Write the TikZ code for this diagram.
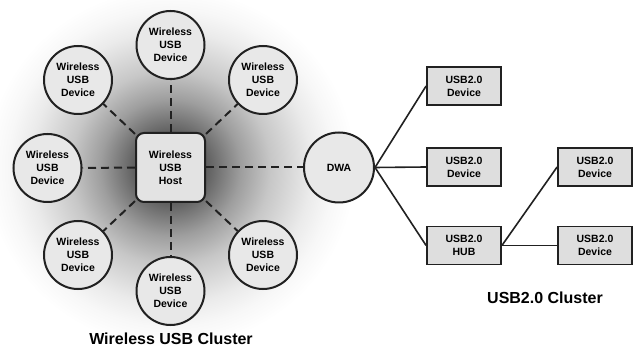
\documentclass[tikz,border=0pt]{standalone}
\usepackage{fontspec}
\setmainfont{Liberation Sans}
\definecolor{shA}{gray}{0.32}
\definecolor{shB}{gray}{0.38}
\definecolor{shC}{gray}{0.62}
\definecolor{shD}{gray}{0.78}
\definecolor{shE}{gray}{0.92}
\definecolor{shF}{gray}{0.97}
\definecolor{nodefill}{gray}{0.91}
\definecolor{hostfill}{gray}{0.89}
\definecolor{boxfill}{gray}{0.87}
\definecolor{linecol}{gray}{0.13}
\pgfdeclareradialshading{wusbshade}{\pgfpoint{0bp}{0bp}}{color(0bp)=(shA); color(5bp)=(shB); color(9.5bp)=(shC); color(13.5bp)=(shD); color(19bp)=(shE); color(22bp)=(shF); color(25bp)=(white); color(50bp)=(white)}
\tikzset{
  devcircle/.style={circle, draw=linecol, line width=2pt, fill=nodefill, minimum size=68pt, inner sep=0pt, align=center, font=\fontsize{10.5}{13}\selectfont\bfseries},
  hostbox/.style={rectangle, rounded corners=8pt, draw=linecol, line width=2pt, fill=hostfill, minimum width=69pt, minimum height=69pt, inner sep=0pt, align=center, font=\fontsize{10.5}{13}\selectfont\bfseries},
  usbbox/.style={rectangle, draw=linecol, line width=1.8pt, fill=boxfill, minimum width=74pt, minimum height=38pt, inner sep=0pt, align=center, font=\fontsize{10.5}{13}\selectfont\bfseries},
  wlink/.style={draw=linecol, line width=2pt, dash pattern=on 8pt off 5pt},
  clink/.style={draw=linecol, line width=1.6pt},
  title/.style={font=\fontsize{16}{18}\selectfont\bfseries, text=black}
}
\begin{document}
\begin{tikzpicture}[x=1pt, y=-1pt]
\useasboundingbox (0,0) rectangle (634,352);
\fill[white] (0,0) rectangle (634,352);
\shade[shading=wusbshade] (170.5,167.5) ellipse (185pt and 180pt);

\node[hostbox] (host) at (170.5,167.5) {Wireless\\USB\\Host};
\node[devcircle] (d1) at (170.5,45) {Wireless\\USB\\Device};
\node[devcircle] (d2) at (263,80) {Wireless\\USB\\Device};
\node[devcircle] (d3) at (47.5,168) {Wireless\\USB\\Device};
\node[devcircle] (d4) at (78,80) {Wireless\\USB\\Device};
\node[devcircle] (d5) at (78,255) {Wireless\\USB\\Device};
\node[devcircle] (d6) at (263,255) {Wireless\\USB\\Device};
\node[devcircle] (d7) at (170.5,291) {Wireless\\USB\\Device};
\node[devcircle, minimum size=70pt] (dwa) at (339,167.5) {DWA};

\foreach \d in {d1,d2,d3,d4,d5,d6,d7,dwa}
  \draw[wlink] (host) -- (\d);

\node[usbbox] (b1) at (464,86) {USB2.0\\Device};
\node[usbbox] (b2) at (464,167) {USB2.0\\Device};
\node[usbbox] (hub) at (464,245.5) {USB2.0\\HUB};
\node[usbbox] (b3) at (595,167) {USB2.0\\Device};
\node[usbbox] (b4) at (595,245.5) {USB2.0\\Device};

\draw[clink] (dwa.east) -- (b1.west);
\draw[clink] (dwa.east) -- (b2.west);
\draw[clink] (dwa.east) -- (hub.west);
\draw[clink] (hub.east) -- (b3.west);
\draw[clink] (hub.east) -- (b4.west);

\node[title] (wtitle) at (171,339) {Wireless USB Cluster};
\node[title] (utitle) at (545,298) {USB2.0 Cluster};
\end{tikzpicture}
\end{document}
